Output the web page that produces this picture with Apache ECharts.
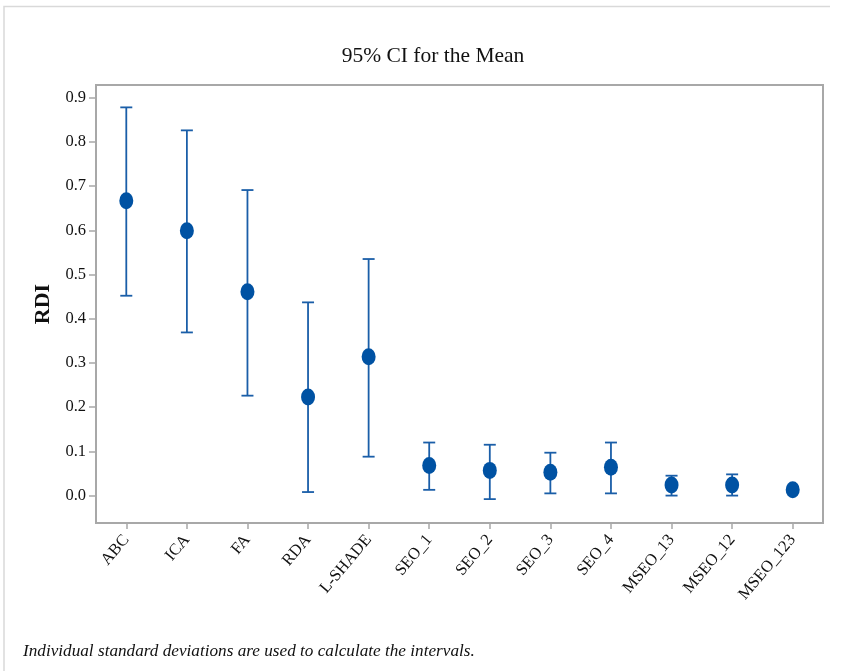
<!DOCTYPE html>
<html>
<head>
<meta charset="utf-8">
<script src="https://cdn.jsdelivr.net/npm/echarts@6/dist/echarts.min.js"></script>
<style>
html,body{margin:0;padding:0;background:#fff;}
#chart{width:845px;height:671px;}
</style>
</head>
<body>
<div id="chart"></div>
<script>
const categories = ['ABC','ICA','FA','RDA','L-SHADE','SEO_1','SEO_2','SEO_3','SEO_4','MSEO_13','MSEO_12','MSEO_123'];
const means = [0.667, 0.599, 0.461, 0.223, 0.314, 0.068, 0.057, 0.053, 0.064, 0.024, 0.024, 0.013];
const lower = [0.452, 0.369, 0.226, 0.008, 0.088, 0.013, -0.008, 0.005, 0.005, 0.000, 0.000, 0.008];
const upper = [0.878, 0.826, 0.691, 0.437, 0.535, 0.120, 0.115, 0.097, 0.120, 0.045, 0.048, 0.018];
const yTicks = [0.0, 0.1, 0.2, 0.3, 0.4, 0.5, 0.6, 0.7, 0.8, 0.9];

const serif = '"Liberation Serif", "DejaVu Serif", serif';
const barColor = '#1a5ea8';
const dotColor = '#0052a3';

const chart = echarts.init(document.getElementById('chart'), null, {renderer: 'canvas'});

const ciData = categories.map((c, i) => [i, lower[i], upper[i]]);
const meanData = categories.map((c, i) => [i, means[i]]);

chart.setOption({
  animation: false,
  backgroundColor: '#fff',
  title: {
    text: '95% CI for the Mean',
    left: 428, top: 40, textAlign: 'center',
    textStyle: {fontFamily: serif, fontSize: 21.5, fontWeight: 'normal', color: '#111'}
  },
  grid: {
    left: 96, right: 22, top: 85, bottom: 148,
    show: true, borderColor: '#a8a8a8', borderWidth: 2, backgroundColor: 'transparent'
  },
  xAxis: {
    type: 'category',
    data: categories,
    boundaryGap: true,
    axisLine: {show: false, onZero: false},
    axisTick: {show: true, alignWithLabel: true, length: 6, lineStyle: {color: '#a8a8a8', width: 1.5}},
    axisLabel: {
      rotate: 50, margin: 14, interval: 0,
      fontFamily: serif, fontSize: 16.5, color: '#111'
    },
    splitLine: {show: false}
  },
  yAxis: {
    type: 'value',
    min: -0.062, max: 0.9286,
    name: 'RDI',
    nameLocation: 'middle',
    nameGap: 42,
    nameTextStyle: {fontFamily: serif, fontSize: 22, fontWeight: 'bold', color: '#111'},
    axisLine: {show: false, onZero: false},
    axisTick: {show: true, length: 7, lineStyle: {color: '#a8a8a8', width: 1.5},
      customValues: yTicks},
    axisLabel: {
      fontFamily: serif, fontSize: 16.5, color: '#111', margin: 10,
      customValues: yTicks,
      formatter: v => v.toFixed(1)
    },
    splitLine: {show: false}
  },
  series: [
    {
      type: 'custom',
      data: ciData,
      z: 2,
      renderItem: function (params, api) {
        const x = api.value(0);
        const lo = api.coord([x, api.value(1)]);
        const hi = api.coord([x, api.value(2)]);
        const hw = 6;
        const style = {stroke: barColor, lineWidth: 1.8, fill: null};
        return {
          type: 'group',
          children: [
            {type: 'line', shape: {x1: hi[0], y1: hi[1], x2: lo[0], y2: lo[1]}, style: style},
            {type: 'line', shape: {x1: hi[0] - hw, y1: hi[1], x2: hi[0] + hw, y2: hi[1]}, style: style},
            {type: 'line', shape: {x1: lo[0] - hw, y1: lo[1], x2: lo[0] + hw, y2: lo[1]}, style: style}
          ]
        };
      },
      encode: {x: 0, y: [1, 2]}
    },
    {
      type: 'scatter',
      data: meanData,
      z: 3,
      symbol: 'circle',
      symbolSize: [14, 17],
      itemStyle: {color: dotColor, opacity: 1}
    }
  ],
  graphic: [
    {
      type: 'polyline',
      shape: {points: [[4, 671], [4, 6.5], [830, 6.5]]},
      style: {stroke: '#d9d9d9', lineWidth: 1.5, fill: null},
      silent: true
    },
    {
      type: 'text',
      left: 23, top: 643,
      style: {
        text: 'Individual standard deviations are used to calculate the intervals.',
        font: 'italic 17.2px "Liberation Serif", serif',
        fill: '#111'
      }
    }
  ]
});
</script>
</body>
</html>
